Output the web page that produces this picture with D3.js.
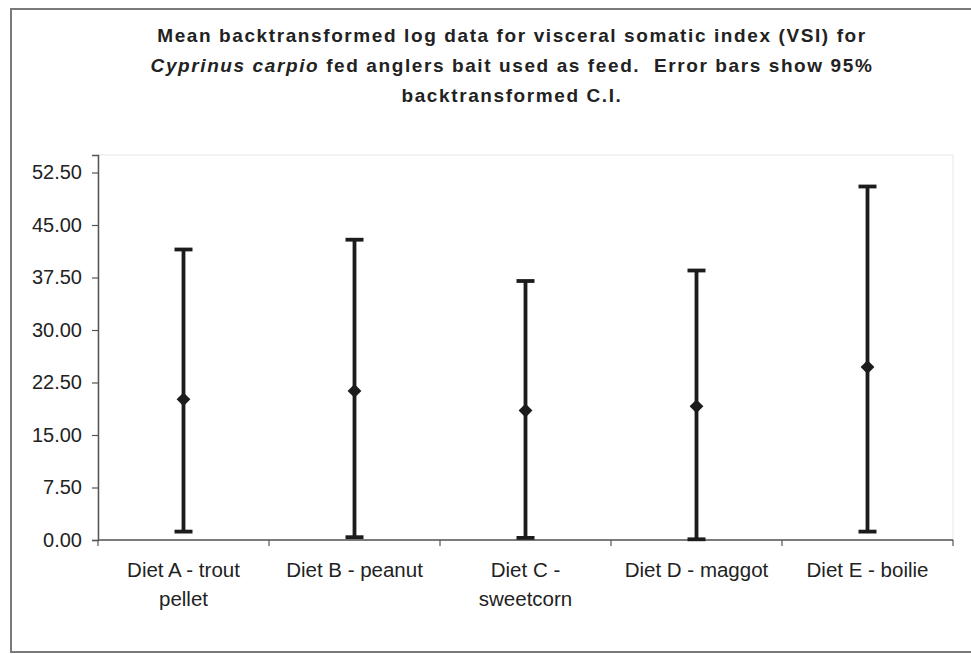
<!DOCTYPE html>
<html>
<head>
<meta charset="utf-8">
<script src="https://cdn.jsdelivr.net/npm/d3@7"></script>
<style>
  html, body { margin: 0; padding: 0; background: #fff; }
  svg { display: block; }
  text { font-family: "Liberation Sans", Arial, sans-serif; fill: #222; }
</style>
</head>
<body>
<svg id="chart" width="971" height="654"></svg>
<script>
// ---- data ----
const categories = ["Diet A - trout pellet", "Diet B - peanut", "Diet C - sweetcorn", "Diet D - maggot", "Diet E - boilie"];
const categoryLines = [["Diet A - trout", "pellet"], ["Diet B - peanut"], ["Diet C -", "sweetcorn"], ["Diet D - maggot"], ["Diet E - boilie"]];
const meanValues = [20.1, 21.3, 18.5, 19.1, 24.7];
const lowerCI = [1.2, 0.4, 0.3, 0.1, 1.2];
const upperCI = [41.5, 42.9, 37.0, 38.5, 50.5];
const yTicks = [0, 7.5, 15, 22.5, 30, 37.5, 45, 52.5];
const yMax = 55;
const titleLine1 = "Mean backtransformed log data for visceral somatic index (VSI) for";
const titleLine2a = "Cyprinus carpio";
const titleLine2b = " fed anglers bait used as feed.  Error bars show 95%";
const titleLine3 = "backtransformed C.I.";

// ---- layout ----
const svg = d3.select("#chart");
const plot = { left: 98, right: 953, top: 155, bottom: 540 };

// chart frame
svg.append("rect")
  .attr("x", 11).attr("y", 9)
  .attr("width", 975).attr("height", 643)
  .attr("fill", "none").attr("stroke", "#7a7a7a").attr("stroke-width", 2);

// plot area (faint border)
svg.append("rect")
  .attr("x", plot.left).attr("y", plot.top)
  .attr("width", plot.right - plot.left).attr("height", plot.bottom - plot.top)
  .attr("fill", "none").attr("stroke", "#e6e6e6").attr("stroke-width", 1);

const x = d3.scaleBand().domain(categories).range([plot.left, plot.right]).padding(0);
const y = d3.scaleLinear().domain([0, yMax]).range([plot.bottom, plot.top]);

// y axis
const yAxis = d3.axisLeft(y).tickValues(yTicks).tickFormat(d3.format(".2f")).tickSizeOuter(0).tickSize(6).tickPadding(10);
const gy = svg.append("g").attr("transform", `translate(${plot.left},0)`).call(yAxis);
gy.select(".domain").attr("stroke", "#555").attr("stroke-width", 1.5);
gy.selectAll(".tick line").attr("stroke", "#555").attr("stroke-width", 1.2);
gy.selectAll(".tick text").style("font-size", "20px").attr("fill", "#222");

// x axis (line + ticks between categories)
const gx = svg.append("g");
gx.append("line")
  .attr("x1", plot.left).attr("x2", plot.right)
  .attr("y1", y(0)).attr("y2", y(0))
  .attr("stroke", "#555").attr("stroke-width", 1.5);
const boundaries = categories.map(c => x(c)).concat([x(categories[categories.length - 1]) + x.bandwidth()]);
gx.selectAll("line.tk").data(boundaries).join("line")
  .attr("class", "tk")
  .attr("x1", d => d).attr("x2", d => d)
  .attr("y1", y(0)).attr("y2", y(0) + 6)
  .attr("stroke", "#555").attr("stroke-width", 1.2);

// category labels
const labels = gx.selectAll("text.cat").data(categories).join("text")
  .attr("class", "cat")
  .attr("x", d => x(d) + x.bandwidth() / 2)
  .attr("y", 577)
  .attr("text-anchor", "middle")
  .style("font-size", "20.5px");
labels.each(function(d, i) {
  const t = d3.select(this);
  categoryLines[i].forEach((ln, j) => {
    t.append("tspan").attr("x", x(d) + x.bandwidth() / 2).attr("dy", j === 0 ? 0 : 29).text(ln);
  });
});

// error bars
const rows = categories.map((c, i) => ({ c, mean: meanValues[i], lo: lowerCI[i], hi: upperCI[i] }));
const eb = svg.append("g").attr("stroke", "#1c1c1c");
const cx = d => x(d.c) + x.bandwidth() / 2;
eb.selectAll("line.v").data(rows).join("line")
  .attr("class", "v")
  .attr("x1", cx).attr("x2", cx)
  .attr("y1", d => y(d.lo)).attr("y2", d => y(d.hi))
  .attr("stroke-width", 3.8);
eb.selectAll("line.capTop").data(rows).join("line")
  .attr("class", "capTop")
  .attr("x1", d => cx(d) - 9).attr("x2", d => cx(d) + 9)
  .attr("y1", d => y(d.hi)).attr("y2", d => y(d.hi))
  .attr("stroke-width", 3.8);
eb.selectAll("line.capBot").data(rows).join("line")
  .attr("class", "capBot")
  .attr("x1", d => cx(d) - 9).attr("x2", d => cx(d) + 9)
  .attr("y1", d => y(d.lo)).attr("y2", d => y(d.lo))
  .attr("stroke-width", 3.8);

// mean markers (diamonds)
svg.append("g").selectAll("path").data(rows).join("path")
  .attr("d", d3.symbol(d3.symbolSquare, 95))
  .attr("transform", d => `translate(${cx(d)},${y(d.mean)}) rotate(45)`)
  .attr("fill", "#1c1c1c");

// title
const tg = svg.append("g").attr("text-anchor", "middle")
  .style("font-weight", "bold").style("font-size", "19px").style("letter-spacing", "1.6px");
tg.append("text").attr("x", 512).attr("y", 42).text(titleLine1);
const t2 = tg.append("text").attr("x", 512).attr("y", 72);
t2.append("tspan").style("font-style", "italic").text(titleLine2a);
t2.append("tspan").attr("xml:space", "preserve").style("white-space", "pre").text(titleLine2b);
tg.append("text").attr("x", 512).attr("y", 102).text(titleLine3);
</script>
</body>
</html>
